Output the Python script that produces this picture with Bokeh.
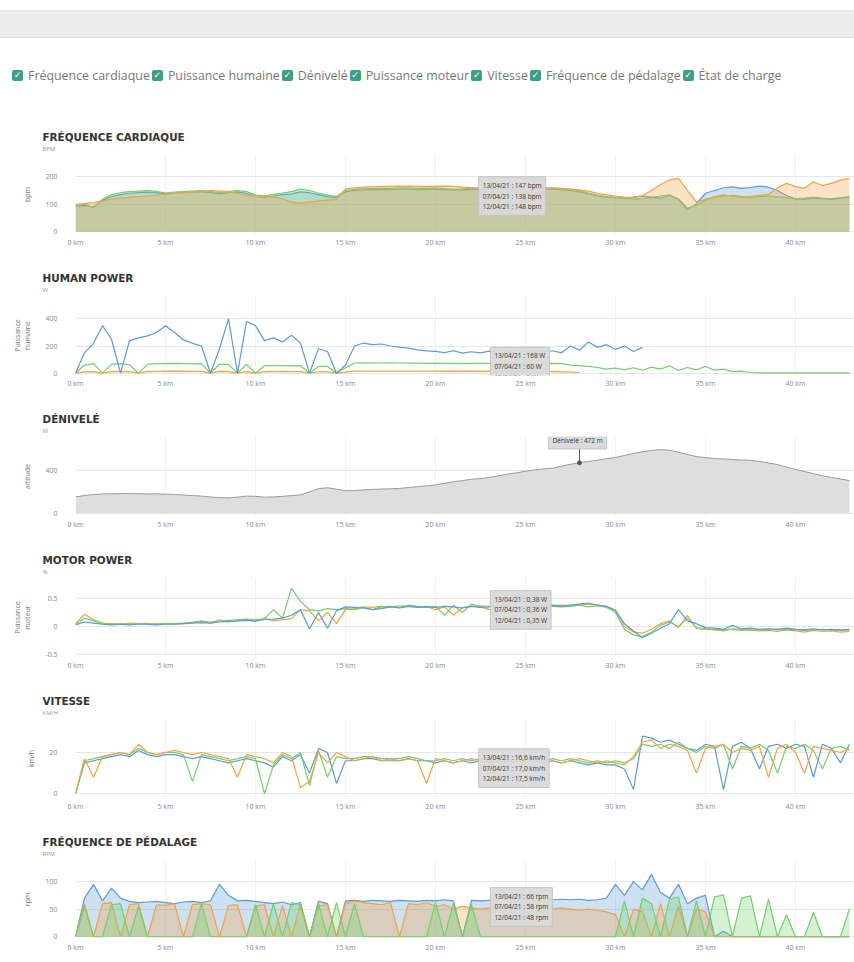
from bokeh.plotting import figure
from bokeh.models import Title, FixedTicker, Label, Div, Range1d
from bokeh.layouts import column
from bokeh.embed import file_html
from bokeh.resources import INLINE

NAN = float("nan")

# distance samples (km), one every 0.5 km
DIST = [i * 0.5 for i in range(87)]
X_TICKS = [0, 5, 10, 15, 20, 25, 30, 35, 40]
X_LABELS = {t: f"{t} km" for t in X_TICKS}

LEGEND = ["Fréquence cardiaque", "Puissance humaine", "Dénivelé", "Puissance moteur",
          "Vitesse", "Fréquence de pédalage", "État de charge"]

# ---- heart rate (bpm)
HR_GREEN = [95, 100, 88, 118, 135, 142, 146, 148, 150, 147,
            141, 144, 146, 148, 150, 146, 142, 147, 150, 146,
            134, 130, 136, 141, 146, 155, 150, 141, 133, 128,
            150, 155, 156, 157, 158, 158, 160, 160, 158, 158,
            160, 157, 155, 156, 158, 160, 160, 158, 156, 155,
            157, 158, 160, 160, 158, 155, 150, 141, 133, 128,
            125, 122, 118, 120, 125, 130, 134, 120, 86, 96,
            115, 124, 130, 132, 128, 125, 128, 130, 127, 124,
            120, 122, 125, 122, 120, 124, 127]
HR_ORANGE = [100, 102, 106, 112, 118, 122, 125, 128, 130, 133,
             136, 140, 142, 145, 146, 150, 148, 145, 140, 133,
             128, 131, 126, 120, 108, 104, 108, 112, 115, 118,
             156, 160, 162, 163, 164, 165, 166, 166, 165, 164,
             165, 166, 165, 162, 160, 158, 160, 162, 163, 164,
             162, 160, 160, 158, 156, 155, 152, 148, 140, 134,
             130, 126, 124, 132, 150, 172, 188, 194, 150, 108,
             118, 128, 134, 130, 124, 128, 132, 136, 160, 176,
             164, 158, 182, 168, 176, 188, 194]
HR_BLUE = [92, 96, 90, 114, 128, 135, 140, 142, 144, 142,
           138, 140, 142, 144, 146, 142, 138, 142, 145, 140,
           128, 126, 130, 135, 138, 145, 142, 135, 128, 125,
           145, 150, 152, 153, 154, 154, 155, 155, 154, 154,
           155, 153, 151, 152, 154, 155, 155, 154, 152, 150,
           152, 153, 155, 155, 153, 150, 145, 138, 130, 126,
           124, 120, 126, 130, 126, 122, 132, 118, 80, 102,
           140, 150, 160, 163, 158, 161, 166, 162, 150, 132,
           120, 118, 122, 120, 118, 122, 125]

# ---- human power (W)
HP_BLUE = [0, 150, 220, 350, 250, 0, 240, 260, 275, 300,
           350, 300, 245, 220, 200, 0, 180, 400, 0, 380,
           350, 240, 260, 230, 280, 220, 0, 180, 160, 0,
           60, 200, 222, 210, 215, 200, 192, 185, 172, 165,
           160, 152, 165, 148, 158, 150, 162, 145, 155, 150,
           160, 148, 155, 165, 150, 200, 170, 230, 190, 210,
           175, 200, 160, 190, NAN, NAN, NAN, NAN, NAN, NAN,
           NAN, NAN, NAN, NAN, NAN, NAN, NAN, NAN, NAN, NAN,
           NAN, NAN, NAN, NAN, NAN, NAN, NAN]
HP_GREEN = [0, 60, 70, 0, 65, 70, 62, 0, 65, 70,
            70, 72, 70, 68, 70, 0, 66, 65, 0, 64,
            0, 55, 56, 55, 54, 55, 0, 50, 50, 0,
            40, 75, 76, 74, 75, 76, 75, 74, 75, 73,
            72, 73, 72, 71, 72, 73, 72, 70, 72, 71,
            72, 70, 71, 72, 70, 60, 55, 50, 42, 30,
            38, 25, 40, 22, 45, 30, 55, 20, 42, 25,
            50, 22, 30, 12, 15, 5, 2, 2, 2, 2,
            2, 2, 2, 2, 2, 2, 2]
HP_ORANGE = [0, 10, 12, 0, 12, 14, 12, 0, 12, 14,
             14, 15, 14, 13, 14, 0, 13, 12, 0, 12,
             0, 12, 12, 13, 12, 12, 0, 10, 10, 0,
             8, 15, 16, 15, 15, 16, 15, 15, 16, 15,
             15, 14, 15, 14, 15, 14, 15, 14, 14, 15,
             14, 13, 14, 12, 10, 8, 5, NAN, NAN, NAN,
             NAN, NAN, NAN, NAN, NAN, NAN, NAN, NAN, NAN, NAN,
             NAN, NAN, NAN, NAN, NAN, NAN, NAN, NAN, NAN, NAN,
             NAN, NAN, NAN, NAN, NAN, NAN, NAN]

# ---- altitude (m)
ALT = [152, 165, 175, 180, 181, 183, 185, 182, 180, 181,
       178, 175, 170, 165, 160, 152, 145, 143, 150, 160,
       158, 150, 152, 158, 165, 172, 200, 230, 238, 225,
       210, 212, 218, 222, 226, 228, 232, 240, 248, 255,
       265, 280, 295, 305, 318, 323, 335, 350, 365, 378,
       392, 405, 415, 422, 440, 458, 472, 485, 495, 510,
       522, 540, 560, 575, 588, 595, 590, 570, 550, 530,
       520, 512, 508, 502, 498, 495, 485, 470, 455, 432,
       410, 390, 370, 350, 335, 320, 305]

# ---- motor power
MP_ORANGE = [0.05, 0.22, 0.12, 0.06, 0.05, 0.04, 0.06, 0.05, 0.04, 0.05,
             0.05, 0.04, 0.05, 0.08, 0.10, 0.06, 0.12, 0.08, 0.10, 0.12,
             0.09, 0.15, 0.10, 0.12, 0.14, 0.30, 0.28, 0.10, 0.25, 0.05,
             0.30, 0.32, 0.35, 0.34, 0.36, 0.35, 0.37, 0.36, 0.35, 0.36,
             0.30, 0.35, 0.20, 0.34, 0.36, 0.37, 0.36, 0.38, 0.37, 0.36,
             0.37, 0.38, 0.36, 0.37, 0.38, 0.37, 0.38, 0.40, 0.38, 0.36,
             0.30, 0.00, -0.10, -0.12, -0.05, 0.05, 0.10, -0.02, 0.20, -0.04,
             -0.05, -0.06, -0.08, -0.05, -0.07, -0.06, -0.08, -0.07, -0.09, -0.06,
             -0.08, -0.10, -0.07, -0.09, -0.08, -0.10, -0.09]
MP_GREEN = [0.04, 0.15, 0.10, 0.05, 0.04, 0.05, 0.04, 0.05, 0.05, 0.04,
            0.05, 0.05, 0.06, 0.07, 0.09, 0.08, 0.10, 0.11, 0.12, 0.13,
            0.12, 0.14, 0.30, 0.15, 0.68, 0.45, 0.30, 0.28, 0.32, 0.30,
            0.32, 0.30, 0.34, 0.30, 0.35, 0.36, 0.34, 0.38, 0.36, 0.35,
            0.36, 0.20, 0.38, 0.25, 0.40, 0.35, 0.30, 0.36, 0.34, 0.35,
            0.33, 0.35, 0.38, 0.36, 0.35, 0.36, 0.38, 0.35, 0.37, 0.34,
            0.25, -0.05, -0.15, -0.18, -0.10, 0.02, 0.08, 0.00, 0.15, -0.02,
            -0.04, -0.05, -0.06, -0.04, -0.05, -0.07, -0.06, -0.05, -0.04, -0.06,
            -0.05, -0.07, -0.06, -0.05, -0.06, -0.07, -0.06]
MP_BLUE = [0.03, 0.08, 0.06, 0.04, 0.03, 0.04, 0.03, 0.04, 0.04, 0.03,
           0.04, 0.04, 0.05, 0.06, 0.07, 0.06, 0.08, 0.09, 0.10, 0.11,
           0.10, 0.12, 0.13, 0.15, 0.20, 0.30, -0.04, 0.25, -0.03, 0.28,
           0.35, 0.34, 0.33, 0.30, 0.32, 0.35, 0.33, 0.36, 0.34, 0.35,
           0.34, 0.36, 0.35, 0.33, 0.36, 0.34, 0.35, 0.37, 0.35, 0.34,
           0.36, 0.35, 0.37, 0.38, 0.36, 0.38, 0.40, 0.42, 0.38, 0.36,
           0.28, 0.05, -0.08, -0.20, -0.12, -0.03, 0.05, 0.30, 0.10, 0.05,
           -0.02, -0.03, -0.05, 0.02, -0.04, -0.03, -0.05, -0.04, -0.06, -0.03,
           -0.05, -0.06, -0.04, -0.06, -0.05, -0.06, -0.05]

# ---- speed (km/h)
SP_ORANGE = [0, 17, 8, 18, 19, 20, 19, 24, 20, 19,
             20, 21, 20, 19, 20, 19, 18, 17, 8, 19,
             18, 17, 15, 20, 18, 3, 6, 20, 15, 20,
             18, 16, 17, 18, 16, 17, 16, 17, 16, 5,
             17, 16, 15, 16, 17, 16, 17, 16, 15, 16,
             17, 16, 15, 16, 15, 16, 17, 16, 15, 16,
             15, 14, 18, 25, 26, 22, 24, 23, 21, 10,
             22, 23, 24, 20, 22, 21, 23, 8, 22, 24,
             20, 10, 23, 22, 21, 20, 22]
SP_GREEN = [0, 16, 17, 18, 19, 20, 19, 22, 20, 19,
            20, 20, 19, 6, 19, 18, 17, 16, 17, 18,
            17, 0, 14, 19, 17, 20, 4, 21, 8, 18,
            17, 17, 18, 18, 17, 17, 17, 18, 17, 16,
            16, 17, 16, 17, 16, 17, 16, 17, 16, 17,
            16, 17, 16, 17, 16, 17, 16, 15, 16, 15,
            16, 15, 17, 24, 23, 24, 22, 25, 22, 20,
            23, 22, 24, 12, 23, 22, 24, 21, 10, 23,
            22, 24, 21, 12, 22, 23, 21]
SP_BLUE = [0, 15, 16, 17, 18, 19, 18, 21, 19, 18,
           19, 19, 18, 17, 18, 17, 16, 15, 16, 17,
           16, 15, 13, 18, 16, 19, 10, 22, 20, 5,
           16, 16, 17, 17, 16, 16, 16, 17, 16, 16,
           15, 16, 15, 16, 15, 16, 15, 16, 15, 16,
           15, 16, 15, 16, 15, 16, 15, 14, 15, 14,
           14, 12, 2, 28, 27, 25, 26, 24, 22, 21,
           24, 23, 2, 23, 25, 22, 12, 23, 24, 22,
           24, 23, 8, 24, 22, 15, 24]

# ---- cadence (rpm)
CD_BLUE = [0, 70, 95, 65, 88, 70, 64, 62, 63, 64,
           62, 60, 63, 64, 62, 65, 95, 75, 65, 66,
           64, 62, 60, 63, 58, 62, 0, 64, 60, 0,
           65, 66, 64, 66, 65, 64, 66, 65, 64, 66,
           65, 67, 65, 0, 66, 65, 66, 67, 68, 66,
           67, 68, 66, 67, 68, 67, 68, 66, 67, 70,
           95, 75, 100, 85, 113, 80, 70, 95, 60, 70,
           75, 0, 10, 0, 0, 0, 0, 0, 0, 0,
           0, 0, 0, 0, 0, 0, 0]
CD_ORANGE = [0, 60, 0, 60, 62, 0, 58, 60, 0, 58,
             57, 60, 0, 58, 60, 58, 0, 57, 58, 0,
             56, 58, 0, 57, 0, 58, 0, 56, 58, 0,
             60, 65, 62, 60, 58, 62, 0, 60, 58, 62,
             55, 58, 50, 55, 52, 50, 52, 55, 53, 52,
             50, 52, 48, 50, 52, 50, 48, 50, 48, 45,
             40, 0, 50, 45, 0, 60, 0, 55, 0, 50,
             45, 0, 0, 0, 0, 0, 0, 0, 0, 0,
             0, 0, 0, 0, 0, 0, 0]
CD_GREEN = [0, 55, 0, 0, 58, 60, 0, 55, 0, 0,
            0, 0, 0, 0, 60, 0, 0, 0, 0, 0,
            58, 0, 60, 0, 62, 58, 0, 60, 0, 62,
            0, 60, 0, 0, 0, 0, 0, 0, 0, 0,
            62, 0, 60, 0, 58, 0, 0, 0, 0, 0,
            0, 0, 0, 0, 0, 0, 0, 0, 0, 0,
            0, 65, 0, 70, 60, 0, 68, 72, 0, 65,
            0, 72, 76, 0, 70, 74, 0, 68, 0, 40,
            0, 0, 44, 0, 0, 0, 51]

BLUE = "#5b9bd5"
ORANGE = "#f4a142"
GREEN = "#72cf6b"
FONT = "Open Sans"
FIG_W = 846


def make_fig(title, unit, ylabel, yrange, yticks, ylabels=None, height=141, bottom=31):
    p = figure(width=FIG_W, height=height, x_range=Range1d(0, 43.28), y_range=Range1d(*yrange),
               output_backend="svg", toolbar_location=None, title=None,
               min_border_left=67, min_border_right=0, min_border_top=30,
               min_border_bottom=bottom)
    p.add_layout(Title(text=unit, text_font_size="6px", text_color="#999", text_font=FONT,
                       text_font_style="normal", offset=-33, standoff=3,
                       text_line_height=0.9), "above")
    p.add_layout(Title(text=title, text_font_size="10.4px", text_color="#333",
                       text_font="DejaVu Sans", text_font_style="bold", offset=-33,
                       standoff=-3, text_line_height=0.8), "above")
    p.outline_line_color = None
    p.background_fill_color = "white"
    for ax in (p.xaxis, p.yaxis):
        ax.axis_line_color = None
        ax.major_tick_line_color = None
        ax.minor_tick_line_color = None
        ax.major_tick_out = 0
        ax.major_tick_in = 0
        ax.minor_tick_out = 0
        ax.major_label_text_font_size = "7px"
        ax.major_label_text_color = "#888"
        ax.major_label_text_font = FONT
    p.xaxis.ticker = FixedTicker(ticks=X_TICKS)
    p.xaxis.major_label_overrides = X_LABELS
    p.xaxis.major_label_standoff = 3
    p.yaxis.ticker = FixedTicker(ticks=yticks)
    if ylabels:
        p.yaxis.major_label_overrides = ylabels
    p.yaxis.major_label_standoff = 18
    p.yaxis.axis_label = ylabel
    p.yaxis.axis_label_text_font_size = "7px"
    p.yaxis.axis_label_text_font_style = "normal"
    p.yaxis.axis_label_text_color = "#777"
    p.yaxis.axis_label_text_font = FONT
    p.yaxis.axis_label_standoff = 10
    p.xgrid.grid_line_color = "#f0f0f0"
    p.ygrid.grid_line_color = "#e6e6e6"
    return p


def tooltip(p, x, y, text, align="left", baseline="top"):
    p.add_layout(Label(x=x, y=y, text=text, text_font_size="6.5px", text_color="#333",
                       text_font=FONT, text_align=align, text_baseline=baseline,
                       background_fill_color="#d9d9d9", background_fill_alpha=0.95,
                       border_line_color="#c4c4c4", padding=4))


# 1 heart rate
p1 = make_fig("FRÉQUENCE CARDIAQUE", "BPM", "bpm", (-10, 281), [0, 100, 200])
for ys, c in ((HR_BLUE, BLUE), (HR_GREEN, GREEN), (HR_ORANGE, ORANGE)):
    p1.varea(x=DIST, y1=0, y2=ys, fill_color=c, fill_alpha=0.3)
    p1.line(DIST, ys, line_color=c, line_width=1.2)
tooltip(p1, 22.4, 200, "13/04/21 : 147 bpm\n07/04/21 : 138 bpm\n12/04/21 : 148 bpm")

# 2 human power
p2 = make_fig("HUMAN POWER", "W", "Puissance\nhumaine", (-17, 572), [0, 200, 400])
for ys, c in ((HP_ORANGE, ORANGE), (HP_GREEN, GREEN), (HP_BLUE, BLUE)):
    p2.line(DIST, ys, line_color=c, line_width=1.2)
tooltip(p2, 23.05, 191, "13/04/21 : 168 W\n07/04/21 : 60 W\n12/04/21 : 0 W")

# 3 altitude
p3 = make_fig("DÉNIVELÉ", "M", "altitude", (-31, 718), [0, 400])
p3.varea(x=DIST, y1=0, y2=ALT, fill_color="#dedede", fill_alpha=1)
p3.line(DIST, ALT, line_color="#9a9a9a", line_width=1)
p3.segment(x0=[DIST[56]], y0=[ALT[56]], x1=[DIST[56]], y1=[620], line_color="#555", line_width=1)
p3.scatter([DIST[56]], [ALT[56]], size=4, color="#555")
tooltip(p3, 27.9, 681, "Dénivelé : 472 m", align="center", baseline="middle")

# 4 motor power
p4 = make_fig("MOTOR POWER", "%", "Puissance\nmoteur", (-0.554, 0.875), [-0.5, 0, 0.5],
              ylabels={-0.5: "-0.5", 0: "0", 0.5: "0.5"})
for ys, c in ((MP_ORANGE, ORANGE), (MP_GREEN, GREEN), (MP_BLUE, BLUE)):
    p4.line(DIST, ys, line_color=c, line_width=1.2)
tooltip(p4, 23.05, 0.64, "13/04/21 : 0,38 W\n07/04/21 : 0,36 W\n12/04/21 : 0,35 W")

# 5 speed
p5 = make_fig("VITESSE", "KM/H", "km/h", (-2.3, 36.5), [0, 20])
for ys, c in ((SP_BLUE, BLUE), (SP_GREEN, GREEN), (SP_ORANGE, ORANGE)):
    p5.line(DIST, ys, line_color=c, line_width=1.2)
tooltip(p5, 22.4, 21.8, "13/04/21 : 16,6 km/h\n07/04/21 : 17,0 km/h\n12/04/21 : 17,5 km/h")

# 6 cadence
p6 = make_fig("FRÉQUENCE DE PÉDALAGE", "RPM", "rpm", (-5, 140), [0, 50, 100],
              height=125, bottom=15)
for ys, c in ((CD_BLUE, BLUE), (CD_ORANGE, ORANGE), (CD_GREEN, GREEN)):
    p6.varea(x=DIST, y1=0, y2=ys, fill_color=c, fill_alpha=0.3)
    p6.line(DIST, ys, line_color=c, line_width=1.2)
tooltip(p6, 23.05, 89, "13/04/21 : 66 rpm\n07/04/21 : 58 rpm\n12/04/21 : 48 rpm")

items = "".join(
    '<span style="display:inline-block;width:11px;height:11px;background:#3f9e86;'
    'border-radius:2px;color:#fff;font-family:\'DejaVu Sans\';font-size:9px;line-height:11px;'
    'text-align:center;margin-right:5px;">&#10003;</span>'
    f'<span style="margin-right:2px;">{name}</span>' for name in LEGEND)
header = Div(text=(
    '<div style="position:relative;width:846px;height:116px;font-family:\'Open Sans\';">'
    '<div style="position:absolute;left:-8px;top:2px;width:854px;height:28px;background:#ececec;'
    'border-bottom:1px solid #e2e2e2;"></div>'
    '<div style="position:absolute;left:4px;top:59px;display:flex;align-items:center;'
    f'font-size:12.4px;color:#777;white-space:nowrap;">{items}</div></div>'),
    width=FIG_W, height=116, margin=(0, 0, 0, 0))

layout = column(header, p1, p2, p3, p4, p5, p6, spacing=0, margin=(8, 0, 0, 8))
open("out.html", "w").write(file_html(layout, INLINE))
